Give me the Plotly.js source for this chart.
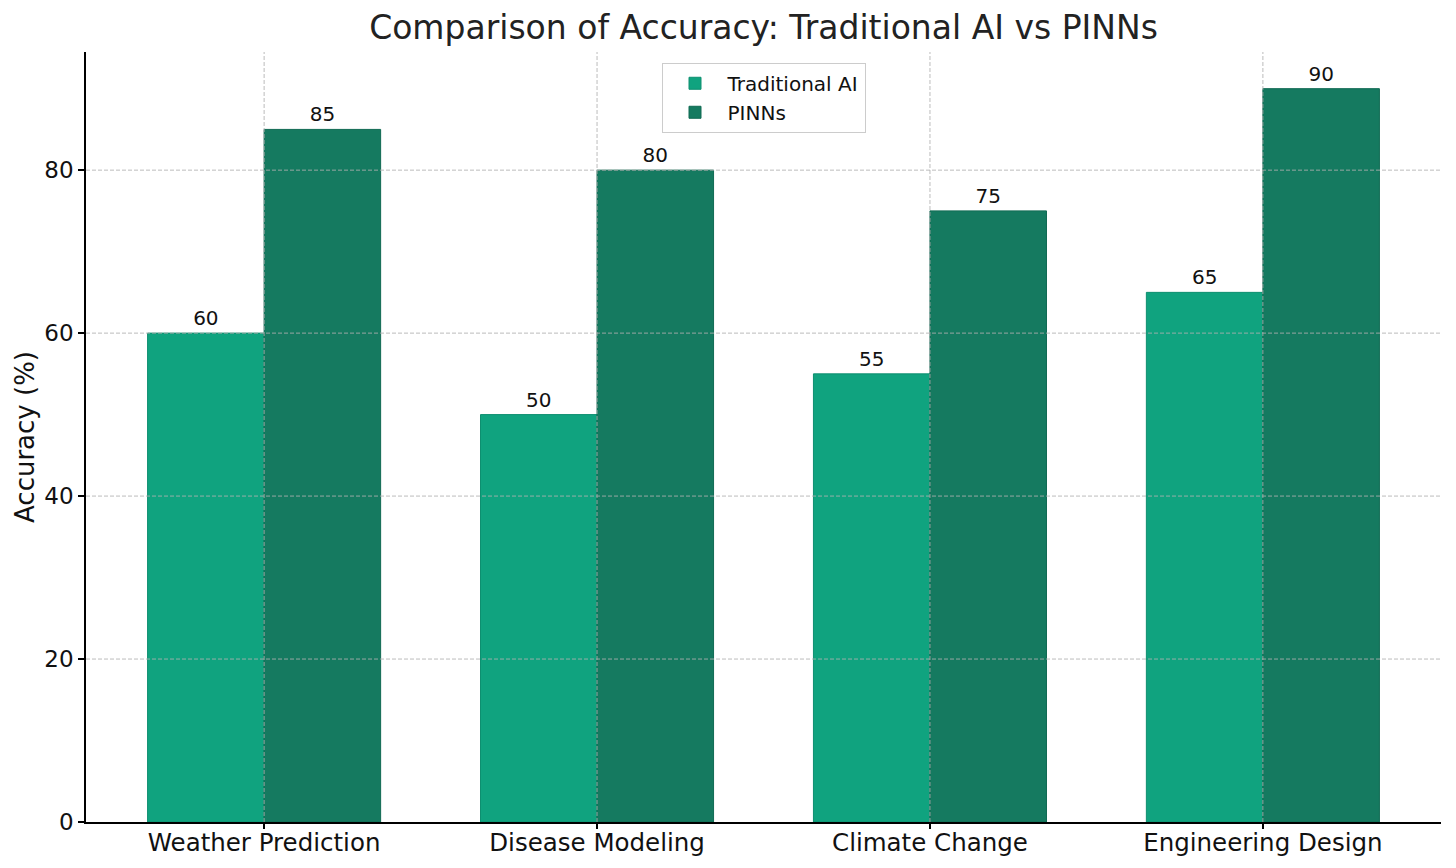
<!DOCTYPE html>
<html>
<head>
<meta charset="utf-8">
<script src="https://cdn.plot.ly/plotly-3.0.1.min.js"></script>
<style>
  body { margin: 0; background: #fff; }
  #chart { width: 1456px; height: 868px; }
</style>
</head>
<body>
<div id="chart"></div>
<script>
var categories = ['Weather Prediction', 'Disease Modeling', 'Climate Change', 'Engineering Design'];
var traditionalAI = [60, 50, 55, 65];
var pinns = [85, 80, 75, 90];
var yTicks = [0, 20, 40, 60, 80];

var font = 'DejaVu Sans, Liberation Sans, sans-serif';
var gridStyle = { color: 'rgba(176,176,176,0.85)', width: 1, dash: '4px,2px' };

var trace1 = {
    x: categories,
    y: traditionalAI,
    name: 'Traditional AI',
    type: 'bar',
    marker: { color: '#10a37f', line: { color: '#0e8f70', width: 1 } },
    text: traditionalAI.map(String),
    textposition: 'outside',
    cliponaxis: false,
    textfont: { family: font, size: 20, color: '#111' }
};

var trace2 = {
    x: categories,
    y: pinns,
    name: 'PINNs',
    type: 'bar',
    marker: { color: '#157a60', line: { color: '#106a53', width: 1 } },
    text: pinns.map(String),
    textposition: 'outside',
    cliponaxis: false,
    textfont: { family: font, size: 20, color: '#111' }
};

// gridlines drawn above the bars, as in the original
var shapes = [];
yTicks.slice(1).forEach(function (v) {
    shapes.push({ type: 'line', layer: 'above', xref: 'paper', yref: 'y',
        x0: 0, x1: 1, y0: v, y1: v, line: gridStyle });
});
categories.forEach(function (c) {
    shapes.push({ type: 'line', layer: 'above', xref: 'x', yref: 'paper',
        x0: c, x1: c, y0: 0, y1: 1, line: gridStyle });
});

var layout = {
    width: 1456,
    height: 868,
    margin: { l: 86, r: 15, t: 52, b: 46 },
    paper_bgcolor: '#fff',
    plot_bgcolor: '#fff',
    font: { family: font, size: 18, color: '#111' },
    title: {
        text: 'Comparison of Accuracy: Traditional AI vs PINNs',
        font: { family: font, size: 33, color: '#222' },
        xref: 'paper', x: 0.5, xanchor: 'center',
        y: 0.968, yanchor: 'middle'
    },
    barmode: 'group',
    bargap: 0.3,
    bargroupgap: 0,
    xaxis: {
        range: [-0.535, 3.535],
        showline: true, linecolor: '#000', linewidth: 1.5,
        ticks: 'outside', ticklen: 5, tickcolor: '#000', tickwidth: 1.5,
        ticklabelstandoff: -7,
        showgrid: false,
        tickfont: { family: font, size: 24.5, color: '#111' },
        layer: 'above traces'
    },
    yaxis: {
        range: [0, 94.5],
        tickvals: yTicks,
        showline: true, linecolor: '#000', linewidth: 1.5,
        ticks: 'outside', ticklen: 6, tickcolor: '#000', tickwidth: 1.5,
        showgrid: false,
        zeroline: false,
        tickfont: { family: font, size: 23, color: '#111' },
        title: { text: 'Accuracy (%)', font: { family: font, size: 26, color: '#111' }, standoff: 2 },
        layer: 'above traces'
    },
    legend: {
        x: 0.5, xanchor: 'center',
        y: 0.986, yanchor: 'top',
        itemwidth: 55,
        bordercolor: '#cccccc', borderwidth: 1,
        bgcolor: 'rgba(255,255,255,0.8)',
        font: { family: font, size: 20, color: '#111' }
    },
    shapes: shapes,
    showlegend: true
};

Plotly.newPlot('chart', [trace1, trace2], layout, { displayModeBar: false });
</script>
</body>
</html>
